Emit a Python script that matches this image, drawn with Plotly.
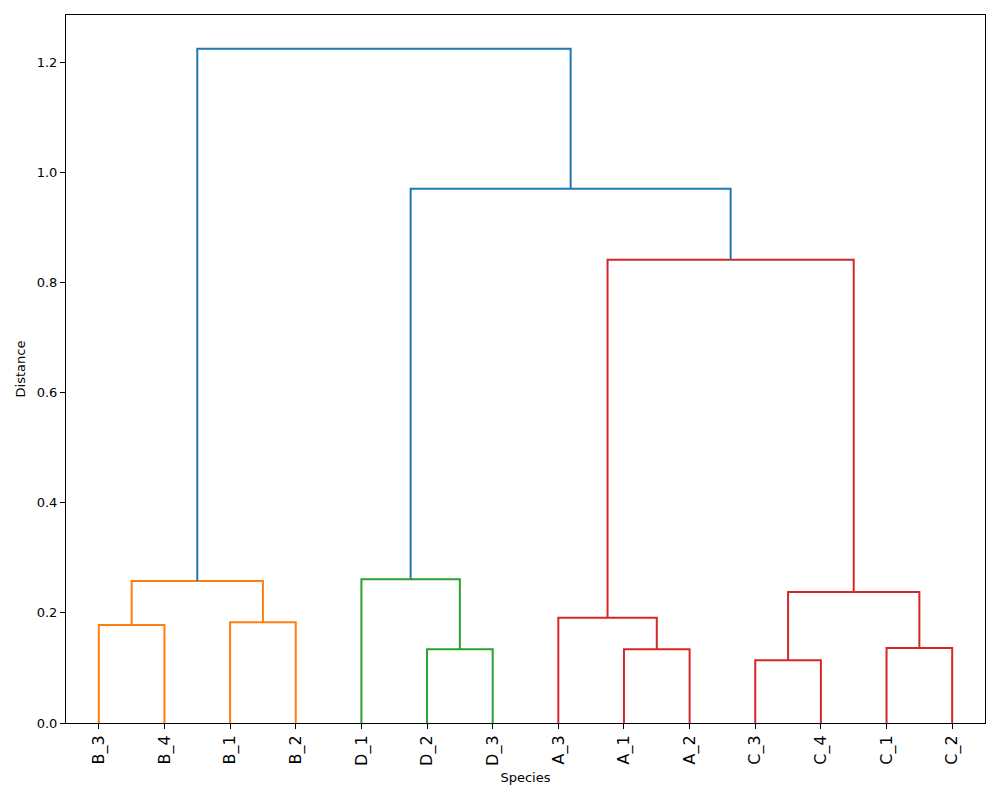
import plotly.graph_objects as go

# Leaf labels in dendrogram order
labels = ["B_3", "B_4", "B_1", "B_2", "D_1", "D_2", "D_3",
          "A_3", "A_1", "A_2", "C_3", "C_4", "C_1", "C_2"]

# Merges: left child, right child, height, link color group
merge_left = ["B_3", "B_1", "m0", "D_2", "D_1", "A_1", "A_3", "C_3", "C_1", "m7", "m6", "m4", "m2"]
merge_right = ["B_4", "B_2", "m1", "D_3", "m3", "A_2", "m5", "C_4", "C_2", "m8", "m9", "m10", "m11"]
merge_height = [0.178, 0.183, 0.258, 0.134, 0.261, 0.134, 0.191, 0.114, 0.136, 0.238, 0.841, 0.970, 1.224]
merge_group = ["B", "B", "B", "D", "D", "A", "A", "A", "A", "A", "A", "root", "root"]

group_colors = {"B": "#ff7f0e", "D": "#2ca02c", "A": "#d62728", "root": "#1f77b4"}

pos = {}
hgt = {}
for i, lab in enumerate(labels):
    pos[lab] = 5 + 10 * i
    hgt[lab] = 0.0

fig = go.Figure()
for k, (l, r, h, g) in enumerate(zip(merge_left, merge_right, merge_height, merge_group)):
    xl, xr = pos[l], pos[r]
    fig.add_trace(go.Scatter(
        x=[xl, xl, xr, xr], y=[hgt[l], h, h, hgt[r]],
        mode="lines", line=dict(color=group_colors[g], width=2),
        showlegend=False, hoverinfo="skip"))
    name = "m%d" % k
    pos[name] = (xl + xr) / 2
    hgt[name] = h

fig.update_layout(
    width=1000, height=800,
    margin=dict(l=66, r=15, t=15, b=77),
    plot_bgcolor="white", paper_bgcolor="white",
    font=dict(family="DejaVu Sans", color="black", size=13),
    xaxis=dict(
        range=[0, 10 * len(labels)],
        tickmode="array", tickvals=[pos[l] for l in labels], ticktext=labels,
        tickangle=-90, tickfont=dict(size=16),
        ticks="outside", ticklen=5, tickcolor="black",
        showgrid=False, zeroline=False,
        showline=True, linecolor="black", linewidth=1, mirror=True,
        title=dict(text="Species", font=dict(size=13), standoff=7),
    ),
    yaxis=dict(
        range=[0, 1.2854],
        tickmode="array", tickvals=[0, 0.2, 0.4, 0.6, 0.8, 1.0, 1.2],
        ticktext=["0.0", "0.2", "0.4", "0.6", "0.8", "1.0", "1.2"],
        tickfont=dict(size=13),
        ticks="outside", ticklen=5, tickcolor="black",
        showgrid=False, zeroline=False,
        showline=True, linecolor="black", linewidth=1, mirror=True,
        title=dict(text="Distance", font=dict(size=13), standoff=8),
    ),
)

fig.write_html("out.html")
